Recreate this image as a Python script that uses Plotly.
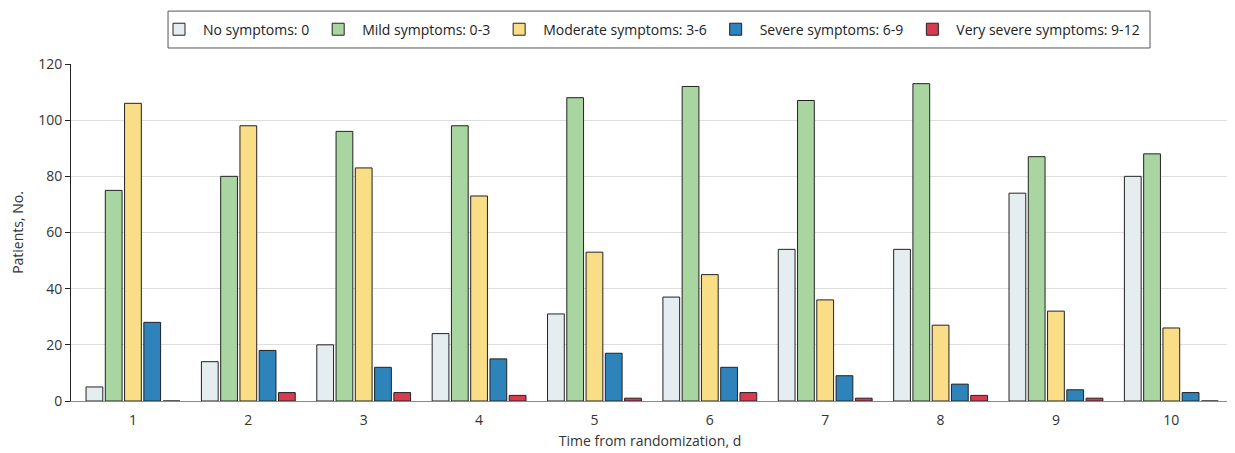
import plotly.graph_objects as go

days = ["1", "2", "3", "4", "5", "6", "7", "8", "9", "10"]
series_names = ["No symptoms: 0", "Mild symptoms: 0-3", "Moderate symptoms: 3-6",
                "Severe symptoms: 6-9", "Very severe symptoms: 9-12"]
no_symptoms = [5, 14, 20, 24, 31, 37, 54, 54, 74, 80]
mild = [75, 80, 96, 98, 108, 112, 107, 113, 87, 88]
moderate = [106, 98, 83, 73, 53, 45, 36, 27, 32, 26]
severe = [28, 18, 12, 15, 17, 12, 9, 6, 4, 3]
very_severe = [0, 3, 3, 2, 1, 3, 1, 2, 1, 0]
colors = ["#e5edf0", "#a9d6a0", "#f9dd87", "#2f83bb", "#d63b4f"]

fig = go.Figure()
for name, vals, col in zip(series_names, [no_symptoms, mild, moderate, severe, very_severe], colors):
    fig.add_trace(go.Bar(x=days, y=vals, name=name,
                         marker=dict(color=col, line=dict(color="#222222", width=1))))

font = "Open Sans"
fig.add_shape(type="rect", xref="paper", yref="paper", x0=0.0838, x1=0.9318, y0=1.0475, y1=1.157,
              line=dict(color="#555555", width=1), fillcolor="rgba(0,0,0,0)", layer="above")
fig.update_layout(
    width=1227, height=445,
    margin=dict(l=63, r=6, t=56, b=52),
    plot_bgcolor="white", paper_bgcolor="white",
    barmode="group", bargap=0.165, bargroupgap=0.13,
    font=dict(family=font, size=14, color="#333333"),
    legend=dict(orientation="h", x=0.5, xanchor="center", y=1.102, yanchor="middle",
                borderwidth=0, font=dict(size=14, color="#222222"),
                traceorder="normal", itemwidth=38, bgcolor="rgba(0,0,0,0)"),
    xaxis=dict(title=dict(text="Time from randomization, d", standoff=8, font=dict(size=14)),
               range=[-0.537, 9.5],
               showline=True, linecolor="#888888", linewidth=1, ticks="", showgrid=False,
               ticklabelstandoff=6, tickfont=dict(size=14)),
    yaxis=dict(title=dict(text="Patients, No.", standoff=13, font=dict(size=14)),
               range=[0, 120], dtick=20, showline=True, linecolor="#222222", linewidth=1,
               ticks="outside", ticklen=5, tickcolor="#222222",
               showgrid=True, gridcolor="#dddddd", gridwidth=1, zeroline=False,
               tickfont=dict(size=14)),
)
fig.write_html("out.html")
